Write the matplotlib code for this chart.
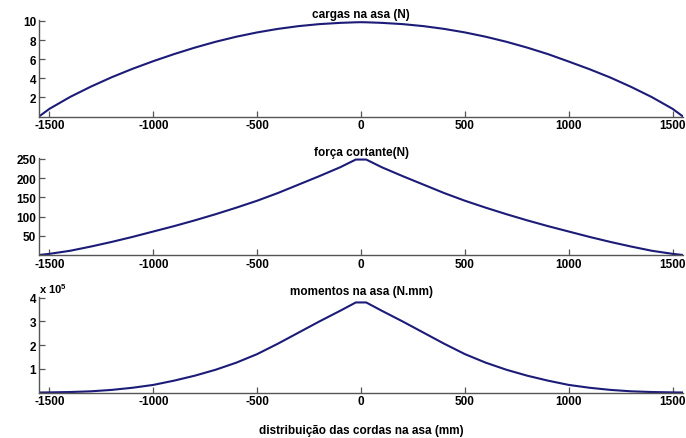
import matplotlib
matplotlib.use('Agg')
import matplotlib.pyplot as plt

# posicoes ao longo da envergadura (mm)
x_pos = [-1550, -1500, -1400, -1300, -1200, -1100, -1000, -900, -800, -700, -600,
         -500, -400, -300, -200, -100, -25, 0, 25, 100, 200, 300, 400, 500,
         600, 700, 800, 900, 1000, 1100, 1200, 1300, 1400, 1500, 1550]

# cargas na asa (N)
cargas = [0.0, 0.8, 2.05, 3.13, 4.11, 4.99, 5.79, 6.53, 7.21, 7.82, 8.35,
          8.8, 9.17, 9.46, 9.67, 9.8, 9.86, 9.87, 9.86, 9.8, 9.67, 9.46, 9.17, 8.8,
          8.35, 7.82, 7.21, 6.53, 5.75, 4.95, 4.08, 3.1, 2.03, 0.8, 0.0]

# forca cortante (N)
cortante = [0, 3, 11, 22, 34, 47, 61, 75, 90, 106, 123,
            141, 161, 183, 205, 228, 248, 248, 248, 228, 205, 183, 161, 141,
            123, 106, 90, 75, 61, 47, 34, 22, 11, 3, 0]

# momentos na asa (N.mm)
momentos = [0, 500, 2000, 5000, 11000, 20000, 32000, 50000, 71000, 96000, 126000,
            162000, 206000, 253000, 300000, 345000, 380000, 380000, 380000, 345000, 300000, 253000, 206000, 162000,
            126000, 96000, 71000, 50000, 32000, 20000, 11000, 5000, 2000, 500, 0]

plt.rcParams['font.family'] = ['Liberation Sans', 'DejaVu Sans']
plt.rcParams['font.weight'] = 'bold'
plt.rcParams['mathtext.default'] = 'regular'
plt.rcParams['axes.unicode_minus'] = False

fig = plt.figure(figsize=(6.86, 4.39), dpi=100)
W, H = 686.0, 439.0
cor = '#1c1c78'

def make_ax(top, bottom):
    ax = fig.add_axes([39 / W, 1 - bottom / H, 644 / W, (bottom - top) / H])
    for s in ['top', 'right']:
        ax.spines[s].set_visible(False)
    for s in ['left', 'bottom']:
        ax.spines[s].set_color('#555555')
        ax.spines[s].set_linewidth(1.0)
    ax.tick_params(direction='in', length=4, width=0.9, color='#555555',
                   labelsize=8.5, pad=2)
    ax.set_xlim(-1550, 1550)
    ax.set_xticks([-1500, -1000, -500, 0, 500, 1000, 1500])
    return ax

ax1 = make_ax(21, 117.5)
ax1.plot(x_pos, cargas, color=cor, lw=1.5)
ax1.set_ylim(0, 10.1)
ax1.set_yticks([2, 4, 6, 8, 10])
ax1.set_title('cargas na asa (N)', fontsize=8.5, fontweight='bold', pad=1)

ax2 = make_ax(159, 256)
ax2.plot(x_pos, cortante, color=cor, lw=1.5)
ax2.set_ylim(0, 252)
ax2.set_yticks([50, 100, 150, 200, 250])
ax2.set_title('força cortante(N)', fontsize=8.5, fontweight='bold', pad=1)

ax3 = make_ax(298, 393.5)
ax3.plot(x_pos, momentos, color=cor, lw=1.5)
ax3.set_ylim(0, 403000)
ax3.set_yticks([100000, 200000, 300000, 400000])
ax3.set_yticklabels(['1', '2', '3', '4'])
ax3.set_title('momentos na asa (N.mm)', fontsize=8.5, fontweight='bold', pad=1)
ax3.text(0.0, 1.02, r'x 10$^{5}$', transform=ax3.transAxes, fontsize=8,
         fontweight='bold', ha='left', va='bottom')
ax3.set_xlabel('distribuição das cordas na asa (mm)', fontsize=8.5,
               fontweight='bold', labelpad=12)

plt.savefig('out.png', dpi=100)
